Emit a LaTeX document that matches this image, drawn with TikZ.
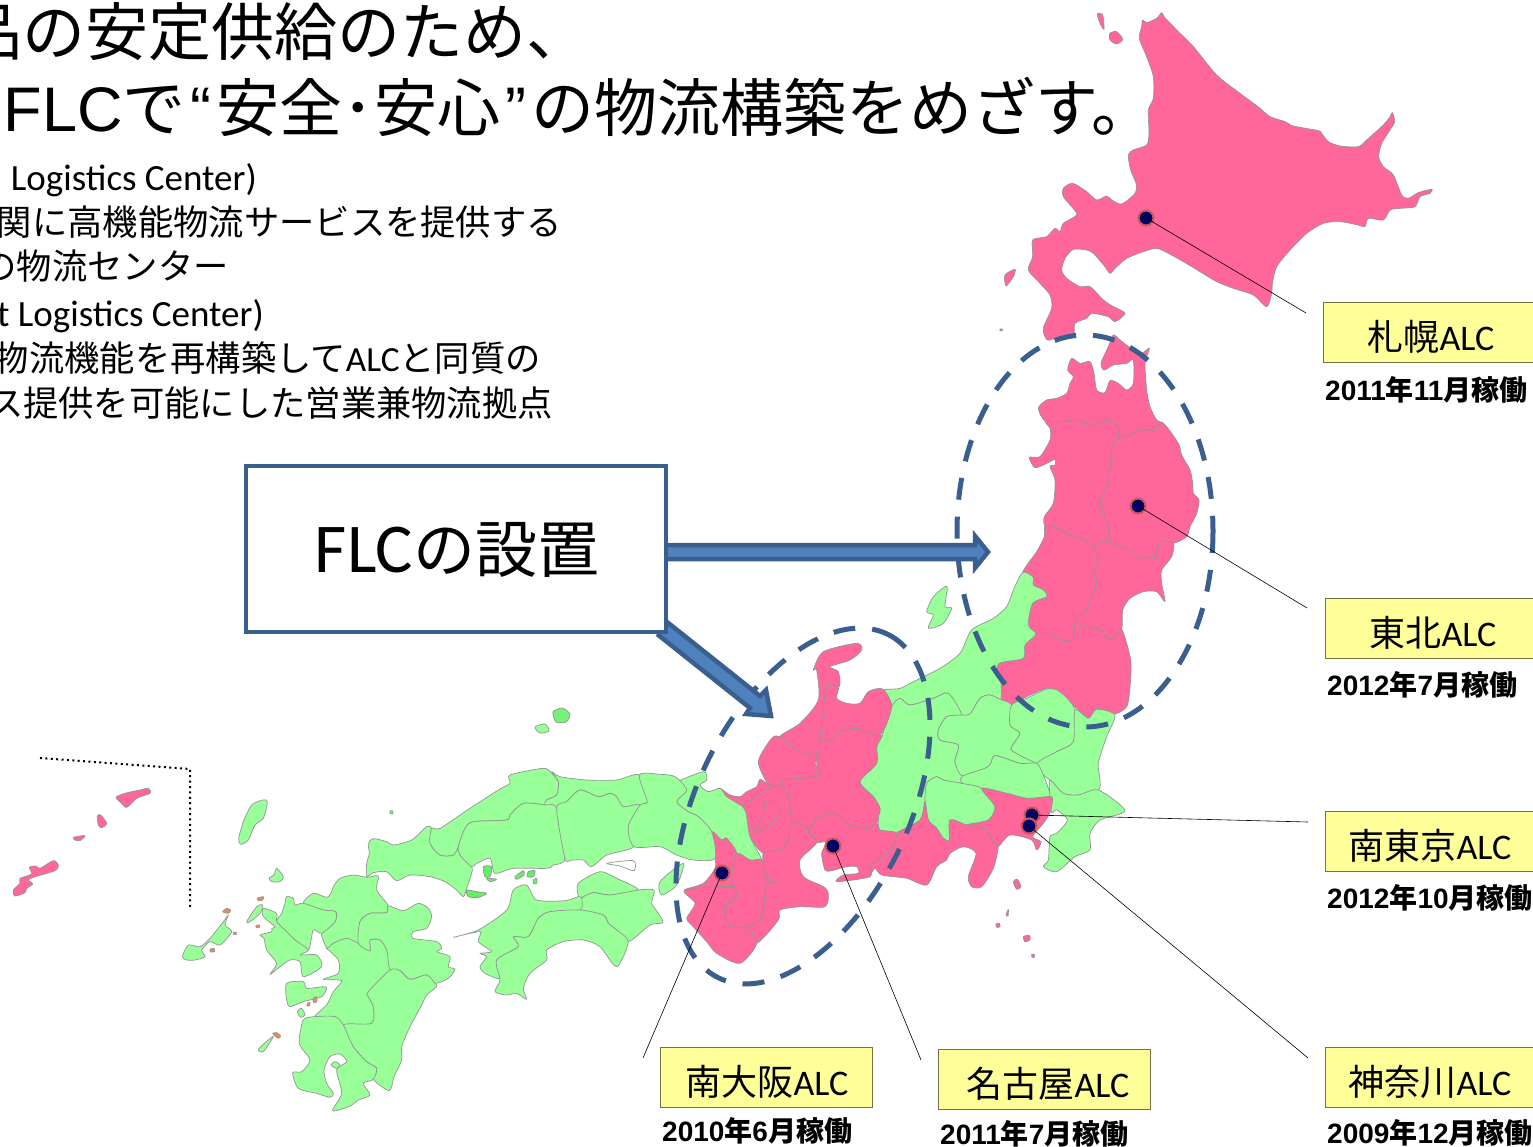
\documentclass[tikz,border=0pt]{standalone}
\usepackage{fontspec}
\setmainfont{Noto Sans CJK JP}
\newfontfamily\calib{Carlito}
\newfontfamily\lib{Liberation Sans}
\newcommand\cbr[1]{{\calib #1}}
\newcommand\lbn[1]{{\lib #1}}
\definecolor{mpink}{HTML}{FF6699}
\definecolor{mgreen}{HTML}{99FF99}
\definecolor{bgreen}{HTML}{66EE66}
\definecolor{morange}{HTML}{F08858}
\definecolor{navy}{HTML}{3A5F8F}
\definecolor{ablue}{HTML}{4F81BD}
\definecolor{dotc}{HTML}{000066}
\definecolor{dotr}{HTML}{C85A5A}
\definecolor{ybox}{HTML}{FFFF99}
\tikzset{
 region/.style={draw=black!42,line width=.7pt,line join=round},
 ringline/.style={draw=navy,line width=5pt,dash pattern=on 22pt off 17pt},
 blockarrow/.style={draw=navy,fill=ablue,line width=4.5pt,miter limit=10},
 flcbox/.style={draw=navy,fill=white,line width=4pt,minimum width=420pt,minimum height=166pt,inner sep=0pt},
 labelbox/.style={draw=black!55!ybox,fill=ybox,line width=.8pt,minimum width=216pt,minimum height=60pt,anchor=north west,inner sep=0pt},
 labeltext/.style={font=\fontsize{36}{36}\selectfont,anchor=center,inner sep=0pt},
 datetext/.style={font=\fontsize{28}{28}\selectfont\bfseries,anchor=west,inner sep=0pt},
 leader/.style={draw=black,line width=.6pt},
 site/.style={circle,draw=dotr,fill=dotc,line width=2pt,minimum size=15pt,inner sep=0pt},
 bodytext/.style={font=\fontsize{35.3}{35.3}\selectfont,anchor=east,inner sep=0pt},
 latbody/.style={font=\fontsize{37}{37}\selectfont,anchor=east,inner sep=0pt},
 titletext/.style={font=\fontsize{63}{63}\selectfont,anchor=east,inner sep=0pt},
}
\newcommand\rg[2]{\draw[region,fill=#1] plot[smooth cycle,tension=.45] coordinates {#2};}
\begin{document}
\begin{tikzpicture}[x=1pt,y=-1pt]
\useasboundingbox (0,0) rectangle (1533,1147);
\clip (0,0) rectangle (1533,1147);
\fill[white] (0,0) rectangle (1533,1147);
% ---- Hokkaido
\begin{scope}[shift={(960,0)},scale=1/3]
\rg{mpink}{(605,38) (612,50) (650,90) (700,140) (770,225) (840,280) (900,325) (930,350) (975,365) (1000,378) (1075,392) (1085,400) (1105,425) (1140,438) (1195,440) (1220,420) (1270,375) (1290,350) (1297,338) (1304,365) (1290,390) (1265,430) (1256,470) (1270,500) (1300,525) (1325,585) (1345,595) (1375,578) (1415,568) (1410,580) (1380,590) (1365,620) (1320,625) (1290,630) (1270,660) (1225,655) (1215,680) (1195,675) (1140,665) (1090,670) (1040,700) (990,750) (950,800) (937,850) (935,880) (920,920) (880,885) (820,865) (770,845) (720,815) (670,785) (625,760) (590,745) (550,755) (500,775) (465,805) (450,820) (435,800) (400,760) (380,750) (340,748) (315,775) (305,810) (320,835) (360,860) (390,860) (430,900) (460,920) (495,940) (465,965) (445,950) (395,940) (380,955) (345,970) (340,1005) (300,1010) (262,1020) (250,985) (275,925) (270,885) (240,850) (205,810) (218,770) (218,720) (260,710) (285,685) (300,695) (310,670) (350,645) (335,620) (310,590) (310,565) (338,550) (380,575) (410,600) (440,588) (455,600) (485,612) (525,580) (528,550) (512,510) (505,465) (520,450) (560,435) (567,400) (565,330) (580,295) (580,230) (560,170) (538,115) (545,80) (548,60) (560,68) (590,55)}
\rg{mpink}{(450,100) (470,95) (488,118) (470,132) (450,120)}
\rg{mpink}{(412,42) (428,45) (432,88) (420,70)}
\rg{mpink}{(135,825) (165,808) (160,830) (138,858)}
\rg{mpink}{(120,987) (128,988) (126,993) (120,992)}
\end{scope}
% ---- Tohoku
\begin{scope}[shift={(900,340)},scale=1/3]
\rg{mpink}{(503,90) (515,55) (540,70) (570,65) (582,100) (590,150) (615,158) (630,122) (655,130) (680,150) (700,130) (700,60) (680,70) (640,75) (612,90) (603,70) (625,20) (640,-15) (660,0) (700,30) (725,40) (748,25) (735,70) (740,150) (750,200) (770,240) (790,250) (765,270) (725,270) (690,285) (650,298) (658,265) (625,240) (590,255) (570,258) (535,238) (490,245) (437,245) (415,205) (440,180) (470,175) (500,160) (510,130) (520,110)}
\rg{mpink}{(437,245) (490,245) (535,238) (570,258) (625,240) (658,265) (650,298) (635,320) (632,380) (622,390) (628,420) (600,490) (620,540) (628,580) (620,605) (580,625) (552,600) (490,575) (465,560) (435,558) (433,530) (460,490) (465,420) (450,380) (465,375) (465,358) (440,370) (405,383) (388,352) (420,350) (450,300) (450,265)}
\rg{mpink}{(650,298) (690,285) (725,270) (765,270) (790,250) (835,310) (845,345) (870,390) (878,430) (880,460) (897,480) (890,520) (870,560) (860,590) (820,610) (780,605) (765,655) (745,650) (715,660) (700,635) (620,605) (628,580) (620,540) (600,490) (628,420) (622,390) (632,380) (635,320)}
\rg{mpink}{(620,605) (700,635) (715,660) (745,650) (765,655) (780,605) (820,610) (815,650) (785,690) (785,730) (795,785) (770,755) (730,755) (690,775) (668,810) (665,868) (640,898) (615,890) (605,870) (555,860) (548,852) (525,852) (530,825) (552,822) (590,732) (580,695) (595,655) (580,625)}
\rg{mpink}{(435,558) (465,560) (490,575) (552,600) (580,625) (595,655) (580,695) (590,732) (552,822) (530,825) (525,852) (518,900) (480,900) (450,882) (408,882) (385,855) (398,790) (440,770) (430,750) (400,735) (400,712) (368,697) (410,635) (433,590)}
\rg{mpink}{(408,882) (450,882) (480,900) (518,900) (525,852) (548,852) (555,860) (605,870) (615,890) (640,898) (665,868) (692,960) (690,1040) (680,1100) (645,1122) (610,1115) (590,1105) (570,1135) (530,1105) (480,1060) (440,1045) (370,1075) (335,1095) (305,1090) (302,1020) (290,1010) (298,970) (370,955) (375,915)}
\rg{mgreen}{(135,740) (142,745) (135,800) (155,805) (130,850) (85,865) (100,825) (80,815) (100,770)}
\end{scope}
% ---- Chubu, Kanto, Kinki
\begin{scope}[shift={(660,620)},scale=1/3]
\rg{mgreen}{(668,212) (720,205) (780,175) (840,145) (900,100) (935,30) (1000,-5) (1040,-40) (1060,-90) (1088,-143) (1120,-128) (1120,-105) (1150,-90) (1160,-70) (1118,-50) (1105,15) (1128,42) (1095,75) (1090,115) (1018,130) (1010,170) (1022,180) (1022,240) (990,225) (960,235) (930,282) (905,285) (865,220) (820,235) (750,255) (720,235) (695,260)}
\rg{mgreen}{(695,260) (720,235) (750,255) (820,235) (865,220) (905,285) (860,290) (835,330) (840,360) (895,375) (885,425) (908,470) (905,490) (850,480) (830,470) (800,490) (795,545) (780,600) (720,635) (660,630) (655,590) (660,565) (640,530) (600,485) (650,430) (650,380) (665,350)}
\rg{mgreen}{(905,285) (930,282) (960,235) (990,225) (1025,240) (1055,255) (1050,315) (1080,340) (1055,380) (1060,395) (1130,430) (1080,430) (1005,407) (985,440) (908,468) (885,425) (895,375) (840,360) (835,330) (860,290)}
\rg{mgreen}{(1055,255) (1100,235) (1160,207) (1200,215) (1245,270) (1240,365) (1190,395) (1150,425) (1130,430) (1060,395) (1055,380) (1080,340) (1050,315)}
\rg{mgreen}{(1245,270) (1285,295) (1310,268) (1365,285) (1340,350) (1315,430) (1320,480) (1315,510) (1255,525) (1210,520) (1170,480) (1150,465) (1130,430) (1190,395) (1240,365)}
\rg{mgreen}{(908,468) (985,440) (1005,407) (1080,430) (1130,430) (1150,465) (1170,520) (1165,530) (1100,535) (1040,520) (965,505) (908,490)}
\rg{mgreen}{(1170,480) (1210,520) (1255,525) (1315,510) (1395,572) (1320,600) (1290,640) (1290,690) (1245,710) (1190,755) (1150,740) (1165,720) (1170,650) (1190,640) (1222,600) (1190,570) (1175,578) (1170,530)}
\rg{mgreen}{(795,545) (800,490) (830,470) (850,480) (905,490) (965,505) (1005,560) (985,600) (920,615) (870,600) (868,660) (850,655) (830,625) (805,600)}
\rg{mpink}{(965,505) (1040,520) (1100,535) (1165,530) (1178,535) (1170,578) (1150,610) (1118,650) (1143,665) (1130,690) (1115,660) (1050,645) (1015,680) (1005,670) (975,630) (920,615) (985,600) (1005,560)}
\rg{mpink}{(795,545) (805,600) (830,625) (850,655) (868,660) (870,600) (920,615) (975,630) (1005,670) (1015,680) (1000,745) (965,800) (935,800) (925,770) (948,700) (910,680) (870,700) (860,720) (830,740) (800,795) (740,775) (665,765) (645,745) (630,765) (630,735) (690,695) (710,640) (780,600)}
\rg{mpink}{(445,625) (465,600) (520,575) (560,610) (620,625) (650,610) (660,630) (710,640) (690,695) (630,735) (630,770) (530,785) (550,765) (595,760) (590,740) (560,740) (515,752) (495,750) (485,700) (500,665) (470,668) (445,640)}
\rg{mpink}{(365,500) (370,480) (420,475) (485,465) (470,430) (480,350) (515,360) (540,335) (590,325) (660,345) (665,350) (650,380) (650,430) (600,485) (640,530) (660,565) (655,590) (650,610) (620,625) (560,610) (520,575) (465,600) (445,625) (395,605) (390,570) (385,530)}
\rg{mpink}{(500,200) (535,200) (530,235) (560,250) (600,250) (625,215) (668,207) (695,260) (660,345) (590,325) (540,335) (515,360) (480,350)}
\rg{mpink}{(360,350) (420,310) (475,240) (470,150) (460,150) (490,95) (590,70) (605,90) (570,120) (510,140) (535,155) (538,200) (500,200) (480,350) (470,410) (400,385)}
\rg{mpink}{(335,355) (360,350) (400,385) (470,410) (465,430) (485,465) (420,475) (370,480) (365,500) (340,500) (320,490) (300,478) (290,500) (260,515) (240,530) (210,525) (180,505) (185,530) (250,562) (280,535) (340,500) (325,495) (295,425)}
\rg{mpink}{(250,560) (280,535) (340,500) (365,500) (385,530) (390,570) (395,605) (385,660) (360,690) (310,700) (270,650) (260,590)}
\rg{mpink}{(280,640) (310,590) (315,550) (345,545) (360,580) (330,615)}
\rg{mpink}{(395,605) (445,625) (445,640) (470,668) (420,720) (430,770) (490,800) (505,820) (495,860) (420,860) (360,870) (355,900) (290,970) (260,920) (305,890) (320,790) (345,790) (315,765) (310,700) (360,690) (385,660)}
\rg{mgreen}{(180,505) (200,530) (250,562) (260,590) (270,650) (305,720) (270,720) (230,700) (200,655) (185,660) (155,635) (115,590) (85,575) (50,545) (80,510) (45,490) (130,455) (140,480) (120,495) (145,515)}
\rg{mpink}{(155,635) (185,660) (200,655) (230,700) (215,770) (220,800) (75,810) (130,790) (165,745) (165,710)}
\rg{mpink}{(75,810) (220,800) (230,830) (195,860) (205,915) (255,920) (290,970) (240,1030) (170,1000) (140,965) (95,915) (80,895) (105,850)}
\rg{mpink}{(230,700) (270,720) (305,720) (315,765) (345,790) (320,790) (305,890) (260,920) (205,915) (195,860) (230,830) (215,770)}
\rg{mgreen}{(0,785) (70,730) (50,795) (5,825)}
\rg{mpink}{(1060,785) (1072,778) (1083,800) (1070,808)}
\rg{mpink}{(1038,885) (1045,868) (1044,888)}
\rg{mpink}{(1008,912) (1018,910) (1020,920) (1010,922)}
\rg{mpink}{(1090,950) (1108,946) (1110,960) (1095,965)}
\rg{mpink}{(1115,1003) (1124,1004) (1122,1013) (1116,1011)}
\end{scope}
% ---- Chugoku, Shikoku, Kyushu
\begin{scope}[shift={(170,740)},scale=1/3]
\rg{mgreen}{(595,312) (610,296) (650,305) (670,315) (725,300) (770,260) (785,265) (780,310) (810,345) (850,345) (865,320) (870,345) (905,380) (905,400) (890,445) (880,470) (860,450) (825,425) (780,410) (720,405) (680,422) (650,395) (610,398) (590,410) (590,370) (598,340)}
\rg{mgreen}{(785,265) (810,265) (900,205) (985,150) (1020,130) (1020,105) (1120,85) (1145,100) (1165,125) (1160,165) (1130,180) (1125,195) (1060,190) (1020,225) (1010,240) (910,245) (885,265) (865,320) (850,345) (810,345) (780,310)}
\rg{mgreen}{(1145,95) (1170,110) (1250,120) (1340,120) (1408,105) (1432,185) (1360,200) (1340,170) (1320,160) (1285,170) (1230,150) (1190,185) (1160,205) (1125,195) (1130,180) (1160,165) (1165,125)}
\rg{mgreen}{(865,320) (885,265) (910,245) (1010,240) (1020,225) (1060,190) (1125,195) (1160,205) (1185,355) (1150,375) (1130,385) (1030,385) (975,400) (960,355) (920,370) (905,380) (870,345)}
\rg{mgreen}{(1160,205) (1190,185) (1230,150) (1285,170) (1320,160) (1340,170) (1360,200) (1410,195) (1375,260) (1392,320) (1310,345) (1265,380) (1240,360) (1205,360) (1185,355)}
\rg{mgreen}{(1408,105) (1470,103) (1515,110) (1550,150) (1520,185) (1555,215) (1585,230) (1625,275) (1635,355) (1570,360) (1520,345) (1470,320) (1392,320) (1375,260) (1410,195) (1432,185)}
\rg{mgreen}{(1225,470) (1225,430) (1290,395) (1340,415) (1405,450) (1320,465) (1270,458) (1230,475)}
\rg{mgreen}{(1235,475) (1270,458) (1320,465) (1405,450) (1452,450) (1445,490) (1465,520) (1478,548) (1440,555) (1375,605) (1340,570) (1315,550) (1300,525) (1230,510)}
\rg{mgreen}{(850,592) (925,570) (1010,510) (1030,450) (1070,435) (1100,480) (1185,482) (1225,470) (1235,475) (1230,510) (1140,515) (1105,535) (1075,590) (1030,590) (1045,620) (980,660) (990,715) (945,700) (930,680) (950,650) (930,640) (965,635) (925,605) (930,575)}
\rg{mgreen}{(1230,510) (1300,525) (1315,550) (1340,570) (1375,605) (1340,680) (1290,620) (1240,600) (1180,605) (1130,630) (1130,660) (1080,700) (1060,745) (1070,778) (1040,760) (1010,765) (975,755) (990,720) (980,660) (1045,620) (1030,590) (1075,590) (1105,535) (1140,515)}
\rg{mgreen}{(490,440) (510,415) (550,405) (590,412) (625,408) (620,450) (655,497) (650,518) (600,520) (570,545) (565,610) (530,595) (490,610) (472,625) (455,580) (495,545) (497,515) (460,510) (400,490) (430,460) (470,472) (485,455)}
\rg{mgreen}{(400,490) (460,510) (497,515) (495,545) (455,580) (430,570) (415,630) (375,600) (350,575) (320,545) (335,520) (345,490) (350,470) (370,475) (375,495)}
\rg{mgreen}{(280,505) (320,520) (320,545) (350,575) (375,600) (415,630) (390,645) (440,645) (455,680) (400,710) (390,665) (360,660) (330,680) (300,703) (320,670) (290,630) (282,595) (270,585) (305,575) (305,565) (315,560) (280,530)}
\rg{mgreen}{(350,730) (400,725) (410,745) (460,740) (470,745) (455,770) (400,785) (360,800) (350,780)}
\rg{mgreen}{(472,625) (490,610) (530,595) (565,610) (600,632) (600,600) (630,600) (650,630) (660,690) (595,755) (595,770) (610,800) (605,850) (520,855) (495,830) (435,830) (470,795) (490,755) (515,722) (460,718) (505,700) (505,660) (470,625)}
\rg{mgreen}{(655,497) (700,512) (745,490) (775,505) (785,530) (770,565) (730,575) (730,595) (800,605) (815,625) (800,635) (840,650) (835,680) (855,688) (835,715) (795,730) (770,705) (720,718) (690,692) (660,690) (650,630) (630,600) (600,600) (600,632) (565,610) (570,545) (600,520) (650,518)}
\rg{mgreen}{(660,690) (690,692) (720,718) (770,705) (795,730) (800,740) (770,765) (755,795) (720,860) (695,920) (695,960) (672,1010) (658,1052) (610,1018) (620,985) (590,965) (550,920) (520,855) (605,850) (610,800) (595,770) (595,755)}
\rg{mgreen}{(435,830) (495,830) (520,855) (550,920) (590,965) (620,985) (610,1018) (580,1030) (600,1065) (565,1080) (540,1098) (488,1112) (515,1060) (500,990) (530,965) (510,942) (480,950) (462,990) (470,1030) (490,1060) (480,1072) (440,1060) (385,1045) (368,998) (395,995) (420,960) (388,910) (400,840)}
\rg{mgreen}{(483,975) (495,965) (510,975) (500,985)}
\rg{mgreen}{(278,180) (292,185) (280,235) (255,255) (235,300) (212,313) (206,295) (222,240) (245,195)}
\rg{mgreen}{(320,385) (340,410) (330,425) (305,425) (297,415) (312,405)}
\rg{mgreen}{(230,545) (260,500) (278,495) (270,520) (240,545)}
\rg{mgreen}{(37,650) (55,615) (90,620) (120,595) (160,545) (175,525) (165,555) (185,575) (150,615) (120,605) (95,630) (105,650) (75,660) (50,660)}
\rg{mgreen}{(382,815) (395,805) (405,825) (392,832)}
\rg{mgreen}{(265,928) (295,900) (310,890) (280,935)}
\rg{morange}{(158,515) (170,505) (182,510) (175,520)}
\rg{morange}{(120,628) (132,625) (134,634) (122,636)}
\rg{morange}{(308,880) (320,878) (332,888) (325,895) (315,888)}
\rg{morange}{(262,475) (280,470) (278,480) (266,482)}
\rg{morange}{(430,775) (440,770) (440,785) (430,787)}
\rg{morange}{(412,790) (420,787) (418,798) (411,798)}
\rg{morange}{(190,577) (199,577) (199,583) (190,583)}
\rg{morange}{(258,557) (268,555) (268,562) (258,562)}
\rg{bgreen}{(890,450) (920,455) (950,460) (925,472) (895,470)}
\rg{bgreen}{(940,380) (965,380) (960,410) (945,410)}
\rg{bgreen}{(1035,410) (1060,392) (1062,405) (1040,418)}
\rg{bgreen}{(1075,395) (1095,392) (1090,410) (1072,410)}
\rg{bgreen}{(1090,420) (1100,415) (1100,430) (1090,430)}
\rg{bgreen}{(660,213) (668,213) (668,222) (660,220)}
\rg{bgreen}{(950,415) (980,418) (960,425)}
\rg{white}{(1310,370) (1390,362) (1392,392) (1350,378)}
\end{scope}
% Oki islands
\rg{bgreen!70!mgreen}{(553,712) (562,708) (570,714) (566,722) (556,722)}
\rg{mgreen}{(535,727) (545,724) (549,731) (540,733)}
% ---- Okinawa
\begin{scope}[shift={(0,740)},scale=1/3]
\rg{mpink}{(348,172) (375,160) (420,150) (445,145) (450,160) (410,175) (380,202) (365,190)}
\rg{mpink}{(292,228) (302,225) (320,250) (305,263) (295,255)}
\rg{mpink}{(220,292) (255,287) (240,302) (225,300)}
\rg{mpink}{(40,450) (60,430) (60,415) (95,402) (88,382) (108,378) (120,385) (160,362) (175,375) (165,392) (100,412) (85,420) (98,432) (80,445) (75,458) (45,468)}
\end{scope}
\coordinate (ok1) at (40,758);
\coordinate (ok2) at (190,769);
\coordinate (ok3) at (190,908);
\draw[line width=2pt,dash pattern=on 2pt off 3.4pt] (ok1) -- (ok2) -- (ok3);
% ---- label ends
\coordinate (e1) at (1306,313);
\coordinate (e2) at (1307,608);
\coordinate (e3) at (1308,822);
\coordinate (e4) at (1308,1058);
\coordinate (e5) at (643,1058);
\coordinate (e6) at (921,1060);
% ---- rings
\draw[ringline] (1085,531) ellipse [x radius=128,y radius=196];
\draw[ringline] plot[domain=0:360,samples=120,smooth] ({803+191.5*cos(\x)*cos(63.7)+105.5*sin(\x)*sin(63.7)},{806-191.5*cos(\x)*sin(63.7)+105.5*sin(\x)*cos(63.7)});
% ---- sites and leaders
\node[site] (sapporo) at (1146,218) {};
\node[site] (tohoku) at (1138,506) {};
\node[site] (tokyo) at (1032,815) {};
\node[site] (kanagawa) at (1029,826) {};
\node[site] (nagoya) at (833,846) {};
\node[site] (osaka) at (722,873) {};
\draw[leader] (sapporo.center) -- (e1);
\draw[leader] (tohoku.center) -- (e2);
\draw[leader] (tokyo.center) -- (e3);
\draw[leader] (kanagawa.center) -- (e4);
\draw[leader] (osaka.center) -- (e5);
\draw[leader] (nagoya.center) -- (e6);
% ---- block arrows and box
\node[flcbox] (flc) at (456,549) {};
\coordinate (t1) at (988,552);
\coordinate (t2) at (771,716);
\draw[blockarrow] (666,545) -- (975,545) -- (975,536) -- (t1) -- (975,568) -- (975,559) -- (666,559);
\draw[blockarrow] (667,622) -- (760,696) -- (766,690) -- (t2) -- (746,714) -- (750,708) -- (657,634);
\node[flcbox] (flcb) at (456,549) {};
\node[inner sep=0pt] (flctext) at (457,550) {\fontsize{62}{62}\selectfont\cbr{\fontsize{70}{70}\selectfont FLC}の設置};
% ---- labels
\node[labelbox] (b1) at (1323,302) {};
\node[labelbox] (b2) at (1325,598) {};
\node[labelbox] (b3) at (1325,811) {};
\node[labelbox] (b4) at (1325,1047) {};
\node[labelbox,minimum width=212pt] (b5) at (660,1047) {};
\node[labelbox,minimum width=212pt] (b6) at (938,1049) {};
\node[labeltext] (l1) at (1431,337) {札幌\cbr{ALC}};
\node[labeltext] (l2) at (1433,633) {東北\cbr{ALC}};
\node[labeltext] (l3) at (1430,846) {南東京\cbr{ALC}};
\node[labeltext] (l4) at (1430,1082) {神奈川\cbr{ALC}};
\node[labeltext] (l5) at (767,1082) {南大阪\cbr{ALC}};
\node[labeltext] (l6) at (1048,1084) {名古屋\cbr{ALC}};
\node[datetext] (d1) at (1325,390) {\lbn{2011}年\lbn{11}月稼働};
\node[datetext] (d2) at (1327,685) {\lbn{2012}年\lbn{7}月稼働};
\node[datetext] (d3) at (1327,898) {\lbn{2012}年\lbn{10}月稼働};
\node[datetext] (d4) at (1327,1133) {\lbn{2009}年\lbn{12}月稼働};
\node[datetext] (d5) at (662,1131) {\lbn{2010}年\lbn{6}月稼働};
\node[datetext] (d6) at (940,1134) {\lbn{2011}年\lbn{7}月稼働};
% ---- title and body
\node[titletext] (t1a) at (590,32) {品の安定供給のため、};
\node[titletext] (t2a) at (1155,107) {と\lbn{FLC}で\hspace{5pt}\lbn{“}\hspace{5pt}安全･安心\hspace{5pt}\lbn{”}\hspace{5pt}の物流構築をめざす。};
\node[latbody] (p1) at (257,180) {\cbr{Logistics Center)}};
\node[bodytext] (p2) at (562,222) {関に高機能物流サービスを提供する};
\node[bodytext] (p3) at (229,266) {の物流センター};
\node[latbody] (p4) at (264,316) {\cbr{t Logistics Center)}};
\node[bodytext] (p5) at (541,358) {物流機能を再構築して\cbr{ALC}と同質の};
\node[bodytext] (p6) at (553,403) {ス提供を可能にした営業兼物流拠点};
\end{tikzpicture}
\end{document}
